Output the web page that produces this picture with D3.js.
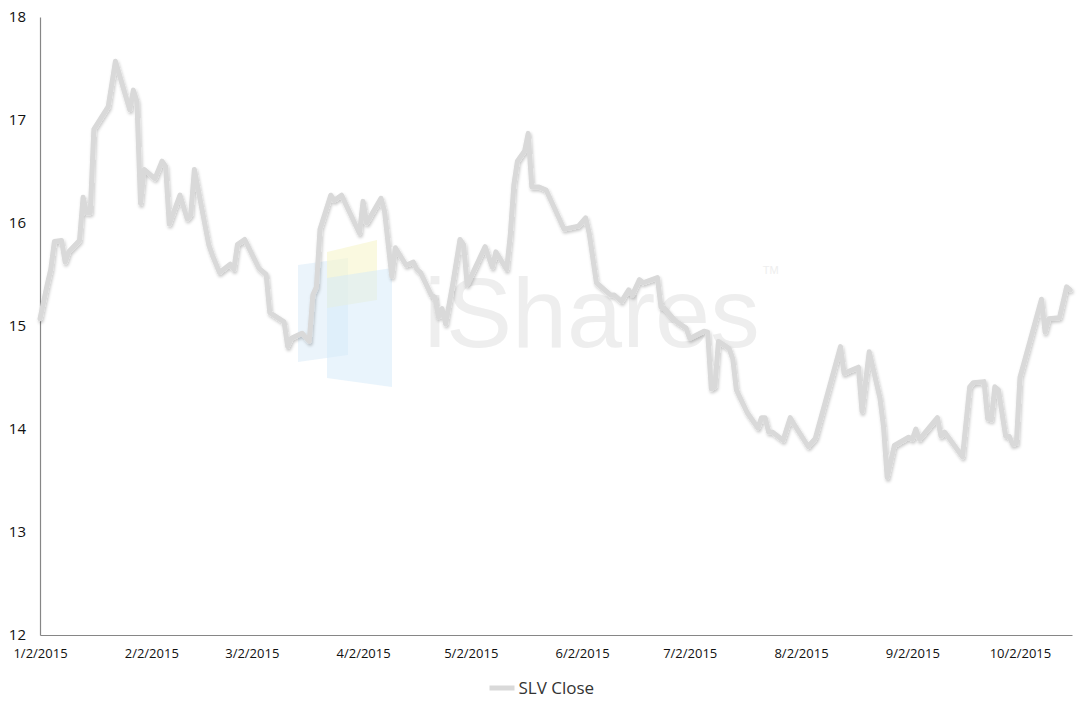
<!DOCTYPE html>
<html>
<head>
<meta charset="utf-8">
<script src="https://cdn.jsdelivr.net/npm/d3@7"></script>
<style>
  body { margin: 0; background: #fff; }
  svg { display: block; font-family: "Liberation Sans", "DejaVu Sans", sans-serif; }
</style>
</head>
<body>
<div id="chart"></div>
<script>
// SLV close
var dates = [
  "2015-01-02","2015-01-04","2015-01-05","2015-01-06","2015-01-08","2015-01-09","2015-01-10","2015-01-13",
  "2015-01-14","2015-01-15","2015-01-16","2015-01-17","2015-01-21","2015-01-23","2015-01-27","2015-01-28",
  "2015-01-29","2015-01-30","2015-01-31","2015-02-03","2015-02-05","2015-02-06","2015-02-07","2015-02-10",
  "2015-02-12","2015-02-13","2015-02-14","2015-02-18","2015-02-19","2015-02-21","2015-02-24","2015-02-25",
  "2015-02-26","2015-02-28","2015-03-04","2015-03-06","2015-03-07","2015-03-11","2015-03-12","2015-03-13",
  "2015-03-16","2015-03-18","2015-03-19","2015-03-20","2015-03-21","2015-03-24","2015-03-25","2015-03-27",
  "2015-04-01","2015-04-02","2015-04-03","2015-04-07","2015-04-08","2015-04-10","2015-04-11","2015-04-14",
  "2015-04-16","2015-04-17","2015-04-18","2015-04-21","2015-04-22","2015-04-23","2015-04-24","2015-04-25",
  "2015-04-27","2015-04-29","2015-04-30","2015-05-01","2015-05-06","2015-05-08","2015-05-09","2015-05-12",
  "2015-05-13","2015-05-14","2015-05-15","2015-05-17","2015-05-18","2015-05-19","2015-05-21","2015-05-23",
  "2015-05-28","2015-06-01","2015-06-03","2015-06-04","2015-06-06","2015-06-10","2015-06-11","2015-06-13",
  "2015-06-15","2015-06-16","2015-06-18","2015-06-19","2015-06-23","2015-06-24","2015-06-25","2015-06-28",
  "2015-07-01","2015-07-02","2015-07-06","2015-07-07","2015-07-08","2015-07-09","2015-07-10","2015-07-13",
  "2015-07-14","2015-07-15","2015-07-18","2015-07-21","2015-07-22","2015-07-23","2015-07-24","2015-07-25",
  "2015-07-28","2015-07-30","2015-07-31","2015-08-04","2015-08-06","2015-08-13","2015-08-14","2015-08-18",
  "2015-08-19","2015-08-21","2015-08-24","2015-08-25","2015-08-26","2015-08-28","2015-09-01","2015-09-02",
  "2015-09-03","2015-09-04","2015-09-09","2015-09-10","2015-09-11","2015-09-16","2015-09-18","2015-09-19",
  "2015-09-22","2015-09-23","2015-09-24","2015-09-25","2015-09-26","2015-09-28","2015-09-29","2015-09-30",
  "2015-10-01","2015-10-02","2015-10-05","2015-10-08","2015-10-09","2015-10-10","2015-10-13","2015-10-15",
  "2015-10-16"
];
var closes = [
  15.07,15.40,15.55,15.82,15.83,15.62,15.72,15.83,
  16.25,16.10,16.10,16.91,17.13,17.57,17.10,17.29,
  17.18,16.19,16.52,16.43,16.60,16.55,15.99,16.27,
  16.04,16.08,16.52,15.79,15.69,15.52,15.60,15.55,
  15.79,15.84,15.56,15.50,15.13,15.04,14.80,14.88,
  14.93,14.85,15.30,15.38,15.94,16.27,16.22,16.27,
  15.90,16.21,16.00,16.24,16.11,15.48,15.76,15.59,
  15.62,15.55,15.52,15.30,15.28,15.09,15.17,15.02,
  15.41,15.84,15.79,15.40,15.77,15.57,15.72,15.55,
  15.88,16.37,16.60,16.70,16.87,16.35,16.35,16.32,
  15.94,15.97,16.05,15.90,15.42,15.30,15.30,15.24,
  15.35,15.30,15.45,15.42,15.47,15.18,15.17,15.05,
  14.98,14.88,14.95,14.94,14.39,14.41,14.85,14.78,
  14.68,14.38,14.16,14.01,14.11,14.11,13.97,13.97,
  13.89,14.11,14.05,13.83,13.91,14.80,14.54,14.60,
  14.17,14.75,14.30,14.02,13.53,13.84,13.92,13.90,
  14.00,13.90,14.11,13.93,13.97,13.73,14.41,14.45,
  14.46,14.10,14.09,14.41,14.38,13.93,13.93,13.85,
  13.86,14.50,14.88,15.26,14.94,15.07,15.08,15.38,
  15.35
];
var xTickDates = ["2015-01-02","2015-02-02","2015-03-02","2015-04-02","2015-05-02",
                  "2015-06-02","2015-07-02","2015-08-02","2015-09-02","2015-10-02"];
var yTicks = [12, 13, 14, 15, 16, 17, 18];
var seriesName = "SLV Close";

var width = 1087, height = 714;
var margin = {top: 17, right: 15, bottom: 79, left: 40};

var parse = d3.timeParse("%Y-%m-%d");
var data = dates.map(function (d, i) {
  return {date: parse(d), value: closes[i]};
});

var svg = d3.select("#chart").append("svg")
  .attr("width", width)
  .attr("height", height);

var defs = svg.append("defs");
var shadow = defs.append("filter").attr("id", "shadow")
  .attr("x", "-5%").attr("y", "-5%").attr("width", "110%").attr("height", "110%");
shadow.append("feDropShadow")
  .attr("dx", 1).attr("dy", 2)
  .attr("stdDeviation", 1.5)
  .attr("flood-color", "#000")
  .attr("flood-opacity", 0.22);

var x = d3.scaleTime()
  .domain([parse("2015-01-02"), d3.timeHour.offset(parse("2015-10-16"), 12)])
  .range([margin.left, width - margin.right]);

var y = d3.scaleLinear()
  .domain([12, 18])
  .range([height - margin.bottom, margin.top]);

//watermark logo (decoration)
var wm = svg.append("g").attr("class", "watermark");
wm.append("polygon")
  .attr("points", "298,265 348,258 348,355 298,362")
  .attr("fill", "#d3e6f6").attr("opacity", 0.45);
wm.append("polygon")
  .attr("points", "327,252 377,240 377,300 327,308")
  .attr("fill", "#f7f5cc").attr("opacity", 0.6);
wm.append("polygon")
  .attr("points", "327,278 392,268 392,387 327,378")
  .attr("fill", "#d4eafa").attr("opacity", 0.5);
var wmText = wm.append("text")
  .attr("x", 424).attr("y", 347)
  .attr("font-family", "Liberation Sans, Arial, sans-serif")
  .attr("font-size", 99)
  .attr("fill", "#eeeeee")
  .text("iShares");
wmText.append("tspan")
  .attr("font-size", 11)
  .attr("dx", 3)
  .attr("dy", -73)
  .text("TM");

//axes
var xAxis = d3.axisBottom(x)
  .tickValues(xTickDates.map(parse))
  .tickFormat(d3.timeFormat("%-m/%-d/%Y"))
  .tickSize(0)
  .tickPadding(14);

var gx = svg.append("g")
  .attr("transform", "translate(0," + y(12) + ")")
  .call(xAxis);
gx.select(".domain").attr("stroke", "#868686").attr("stroke-width", 1.2);
gx.selectAll("text")
  .attr("font-size", 13)
  .attr("fill", "#111")
  .attr("font-family", "Open Sans, Liberation Sans, sans-serif");

var yAxis = d3.axisLeft(y)
  .tickValues(yTicks)
  .tickFormat(d3.format("d"))
  .tickSize(0)
  .tickPadding(14);

var gy = svg.append("g")
  .attr("transform", "translate(" + margin.left + ",0)")
  .call(yAxis);
gy.select(".domain").attr("stroke", "#868686").attr("stroke-width", 1.2);
gy.selectAll("text")
  .attr("font-size", 15)
  .attr("fill", "#111")
  .attr("font-family", "Open Sans, Liberation Sans, sans-serif");

//the line
var line = d3.line()
  .x(function (d) { return x(d.date); })
  .y(function (d) { return y(d.value); });

svg.append("path")
  .datum(data)
  .attr("d", line)
  .attr("fill", "none")
  .attr("stroke", "#d9d9d9")
  .attr("stroke-width", 5)
  .attr("stroke-linejoin", "round")
  .attr("stroke-linecap", "round")
  .attr("filter", "url(#shadow)");

//legend
var legend = svg.append("g")
  .attr("transform", "translate(" + (width / 2 - 54) + "," + (height - 26) + ")");
legend.append("line")
  .attr("x1", 0).attr("x2", 25)
  .attr("y1", 0).attr("y2", 0)
  .attr("stroke", "#d9d9d9")
  .attr("stroke-width", 5);
legend.append("text")
  .attr("x", 29).attr("y", 0)
  .attr("dy", "0.36em")
  .attr("font-size", 17)
  .attr("fill", "#333")
  .attr("font-family", "Open Sans, Liberation Sans, sans-serif")
  .text(seriesName);
</script>
</body>
</html>
